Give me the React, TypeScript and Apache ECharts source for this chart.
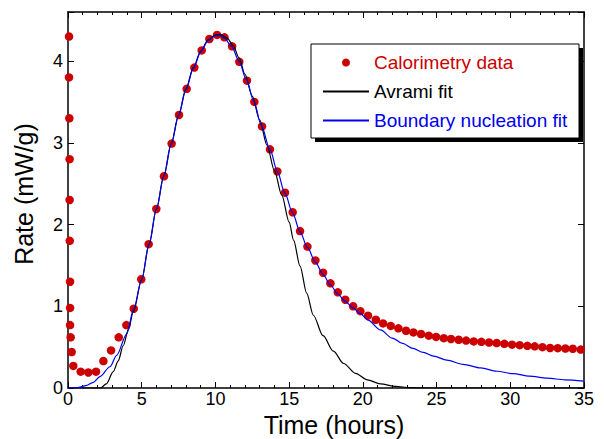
import React, { useEffect, useRef } from 'react';
import * as echarts from 'echarts';

// Calorimetry data (hours, mW/g)
const calTime = [0.07, 0.07, 0.09, 0.11, 0.11, 0.12, 0.14, 0.14, 0.14, 0.18, 0.25, 0.36, 0.86, 1.38, 1.90, 2.40, 2.92, 3.44, 3.96, 4.46, 4.97, 5.47, 5.99, 6.51, 7.03, 7.53, 8.05, 8.57, 9.07, 9.59, 10.11, 10.61, 11.13, 11.62, 12.14, 12.64, 13.16, 13.70, 14.20, 14.72, 15.24, 15.74, 16.24, 16.78, 17.30, 17.80, 18.30, 18.81, 19.34, 19.83, 20.35, 20.88, 21.37, 21.89, 22.41, 22.93, 23.43, 23.95, 24.47, 24.97, 25.49, 25.98, 26.50, 27.00, 27.52, 28.04, 28.56, 29.08, 29.60, 30.12, 30.64, 31.16, 31.66, 32.18, 32.70, 33.22, 33.74, 34.24, 34.78];
const calRate = [4.30, 3.80, 3.30, 2.80, 2.30, 1.80, 1.30, 0.98, 0.77, 0.62, 0.44, 0.27, 0.20, 0.19, 0.20, 0.33, 0.46, 0.62, 0.77, 0.97, 1.33, 1.76, 2.19, 2.59, 2.99, 3.34, 3.66, 3.92, 4.13, 4.27, 4.32, 4.29, 4.18, 3.99, 3.76, 3.50, 3.20, 2.92, 2.65, 2.39, 2.15, 1.92, 1.73, 1.56, 1.41, 1.28, 1.17, 1.08, 1.00, 0.94, 0.885, 0.835, 0.79, 0.76, 0.73, 0.70, 0.68, 0.66, 0.64, 0.625, 0.61, 0.60, 0.59, 0.58, 0.57, 0.565, 0.556, 0.55, 0.54, 0.53, 0.524, 0.516, 0.51, 0.50, 0.49, 0.487, 0.483, 0.48, 0.47];

// Avrami fit
const avramiTime = [0, 2.2, 2.6, 3.07, 3.4, 3.75, 4.1, 4.43, 5.0, 5.5, 6.0, 6.5, 7.0, 7.5, 8.0, 8.5, 9.0, 9.5, 10.0, 10.4, 10.8, 11.2, 11.6, 12.0, 12.5, 13.0, 13.5, 14.0, 14.5, 15.0, 15.3, 15.74, 16.19, 16.64, 17.3, 18.0, 18.7, 19.5, 20.3, 21.2, 22.2, 23.2, 24.5, 35];
const avramiRate = [0, 0, 0.05, 0.20, 0.33, 0.52, 0.72, 0.93, 1.33, 1.76, 2.19, 2.60, 2.99, 3.34, 3.66, 3.92, 4.12, 4.26, 4.32, 4.32, 4.28, 4.19, 4.04, 3.84, 3.57, 3.28, 2.97, 2.66, 2.36, 2.03, 1.81, 1.49, 1.16, 0.89, 0.64, 0.45, 0.30, 0.18, 0.10, 0.05, 0.02, 0.005, 0, 0];

// Boundary nucleation fit
const bnTime = [0, 0.5, 0.81, 1.2, 1.72, 2.17, 2.85, 3.3, 3.98, 4.46, 5.0, 5.5, 6.0, 6.5, 7.0, 7.5, 8.0, 8.5, 9.0, 9.5, 10.0, 10.3, 10.6, 11.1, 11.6, 12.1, 12.6, 13.1, 13.7, 14.2, 14.7, 15.24, 15.74, 16.24, 16.78, 17.3, 17.8, 18.3, 18.8, 19.34, 19.83, 20.35, 21.2, 22.0, 22.7, 23.4, 24.1, 24.8, 25.7, 26.8, 28.0, 29.1, 30.2, 31.3, 32.5, 33.7, 35];
const bnRate = [0, 0.002, 0.01, 0.03, 0.07, 0.14, 0.26, 0.40, 0.66, 0.97, 1.33, 1.76, 2.19, 2.59, 2.98, 3.33, 3.65, 3.91, 4.11, 4.25, 4.31, 4.31, 4.28, 4.18, 4.00, 3.77, 3.51, 3.22, 2.92, 2.65, 2.39, 2.14, 1.91, 1.72, 1.54, 1.39, 1.26, 1.15, 1.06, 0.98, 0.91, 0.83, 0.71, 0.61, 0.545, 0.485, 0.435, 0.39, 0.34, 0.29, 0.245, 0.205, 0.175, 0.145, 0.12, 0.10, 0.085];

const seriesNames = ['Calorimetry data', 'Avrami fit', 'Boundary nucleation fit'];
const xTitle = 'Time (hours)';
const yTitle = 'Rate (mW/g)';

const RED = '#cc0000';
const BLUE = '#0000ee';
const FONT = "'Liberation Sans', Arial, Helvetica, sans-serif";

export default function App() {
  const ref = useRef<HTMLDivElement>(null);
  useEffect(() => {
    const chart = echarts.init(ref.current!, null, { renderer: 'svg' });
    const axisLine = { show: true, onZero: false, lineStyle: { color: '#000', width: 1.5 } };
    const tick = { show: true, inside: true, length: 6, lineStyle: { color: '#000', width: 1 } };
    const minor = { show: true, splitNumber: 5, length: 3, lineStyle: { color: '#000', width: 1 } };
    chart.setOption({
      animation: false,
      backgroundColor: '#fff',
      textStyle: { fontFamily: FONT },
      grid: { left: 68, right: 20, top: 12, bottom: 51 },
      xAxis: [
        {
          type: 'value', min: 0, max: 35, interval: 5, position: 'bottom',
          axisLine, axisTick: tick, minorTick: minor,
          axisLabel: { color: '#000', fontSize: 18, margin: 2, fontFamily: FONT },
          splitLine: { show: false },
        },
        {
          type: 'value', min: 0, max: 35, interval: 5, position: 'top',
          axisLine, axisTick: tick, minorTick: minor,
          axisLabel: { show: false }, splitLine: { show: false },
        },
      ],
      yAxis: [
        {
          type: 'value', min: 0, max: 4.6, interval: 1, position: 'left',
          axisLine, axisTick: tick,
          axisLabel: {
            color: '#000', fontSize: 18, margin: 5, fontFamily: FONT,
            formatter: (v: number) => (Number.isInteger(v) ? String(v) : ''),
          },
          splitLine: { show: false },
        },
        {
          type: 'value', min: 0, max: 4.6, interval: 1, position: 'right',
          axisLine, axisTick: tick,
          axisLabel: { show: false }, splitLine: { show: false },
        },
      ],
      legend: {
        orient: 'vertical', left: 322, top: 53, padding: 0,
        itemWidth: 46, itemHeight: 8, itemGap: 10, z: 20,
        textStyle: { fontSize: 19, fontFamily: FONT },
        data: [
          { name: seriesNames[0], icon: 'circle', itemStyle: { opacity: 1 }, textStyle: { color: RED } },
          { name: seriesNames[1], itemStyle: { opacity: 0 }, textStyle: { color: '#000' } },
          { name: seriesNames[2], itemStyle: { opacity: 0 }, textStyle: { color: BLUE } },
        ],
      },
      graphic: [
        { type: 'rect', z: 10, silent: true, shape: { x: 315, y: 48, width: 268, height: 94 }, style: { fill: '#000' } },
        { type: 'rect', z: 11, silent: true, shape: { x: 311, y: 44, width: 268, height: 94 }, style: { fill: '#fff', stroke: '#000', lineWidth: 1 } },
        { type: 'text', x: 334, y: 425, style: { text: xTitle, fontSize: 25, fontFamily: FONT, fill: '#000', align: 'center', verticalAlign: 'middle' } },
        { type: 'text', x: 24, y: 194, rotation: Math.PI / 2, style: { text: yTitle, fontSize: 25, fontFamily: FONT, fill: '#000', align: 'center', verticalAlign: 'middle' } },
      ],
      series: [
        {
          type: 'scatter', name: seriesNames[0],
          data: calTime.map((t, i) => [t, calRate[i]]),
          symbol: 'circle', symbolSize: 8.5, itemStyle: { color: RED, opacity: 1 },
        },
        {
          type: 'line', name: seriesNames[1],
          data: avramiTime.map((t, i) => [t, avramiRate[i]]),
          symbol: 'none', smooth: 0.3, smoothMonotone: 'x',
          lineStyle: { color: '#000', width: 1.2 }, itemStyle: { color: '#000' },
        },
        {
          type: 'line', name: seriesNames[2],
          data: bnTime.map((t, i) => [t, bnRate[i]]),
          symbol: 'none', smooth: 0.3, smoothMonotone: 'x',
          lineStyle: { color: BLUE, width: 1.2 }, itemStyle: { color: BLUE },
        },
      ],
    });
    return () => chart.dispose();
  }, []);
  return <div ref={ref} style={{ position: 'fixed', left: 0, top: 0, width: 604, height: 439 }} />;
}
